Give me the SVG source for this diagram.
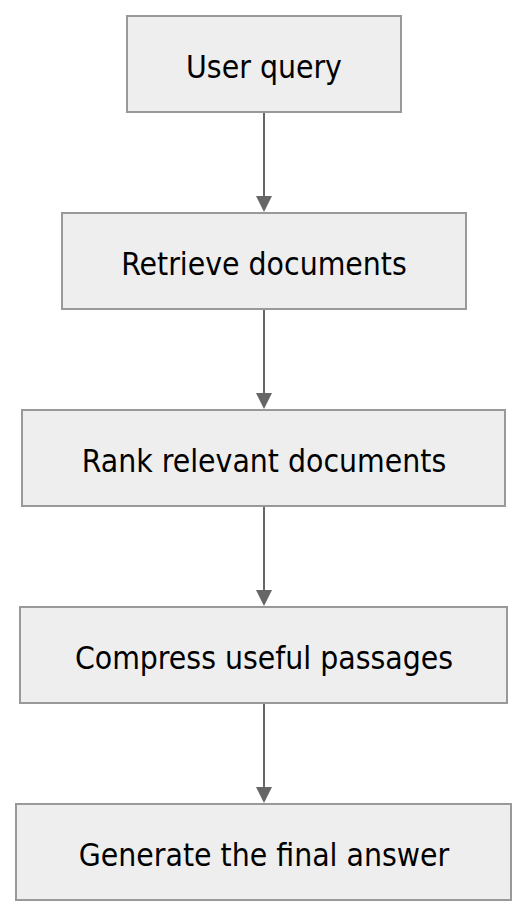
<svg xmlns="http://www.w3.org/2000/svg" width="528" height="917" viewBox="0 0 528 917">
<style>
.box{fill:#eeeeee;stroke:#999999;stroke-width:2}
.lbl{font-family:"DejaVu Sans Condensed","DejaVu Sans",sans-serif;font-size:31.6px;fill:#000;text-anchor:middle}
.edge{stroke:#666666;stroke-width:2;fill:none}
.head{fill:#666666}
</style>
<rect width="528" height="917" fill="#fff"/>
<g id="connectors">
<line class="edge" x1="264" y1="113" x2="264" y2="197"/>
<path class="head" d="M256,196 L272,196 L264,212 Z"/>
<line class="edge" x1="264" y1="310" x2="264" y2="394"/>
<path class="head" d="M256,393 L272,393 L264,409 Z"/>
<line class="edge" x1="264" y1="507" x2="264" y2="591"/>
<path class="head" d="M256,590 L272,590 L264,606 Z"/>
<line class="edge" x1="264" y1="704" x2="264" y2="788"/>
<path class="head" d="M256,787 L272,787 L264,803 Z"/>
</g>
<g id="n1"><rect class="box" x="127" y="16" width="274" height="96"/><text class="lbl" x="264" y="78">User query</text></g>
<g id="n2"><rect class="box" x="62" y="213" width="404" height="96"/><text class="lbl" x="264" y="275">Retrieve documents</text></g>
<g id="n3"><rect class="box" x="22" y="410" width="483" height="96"/><text class="lbl" x="264" y="472">Rank relevant documents</text></g>
<g id="n4"><rect class="box" x="20" y="607" width="487" height="96"/><text class="lbl" x="264" y="669">Compress useful passages</text></g>
<g id="n5"><rect class="box" x="16" y="804" width="495" height="96"/><text class="lbl" x="264" y="866">Generate the final answer</text></g>
</svg>
